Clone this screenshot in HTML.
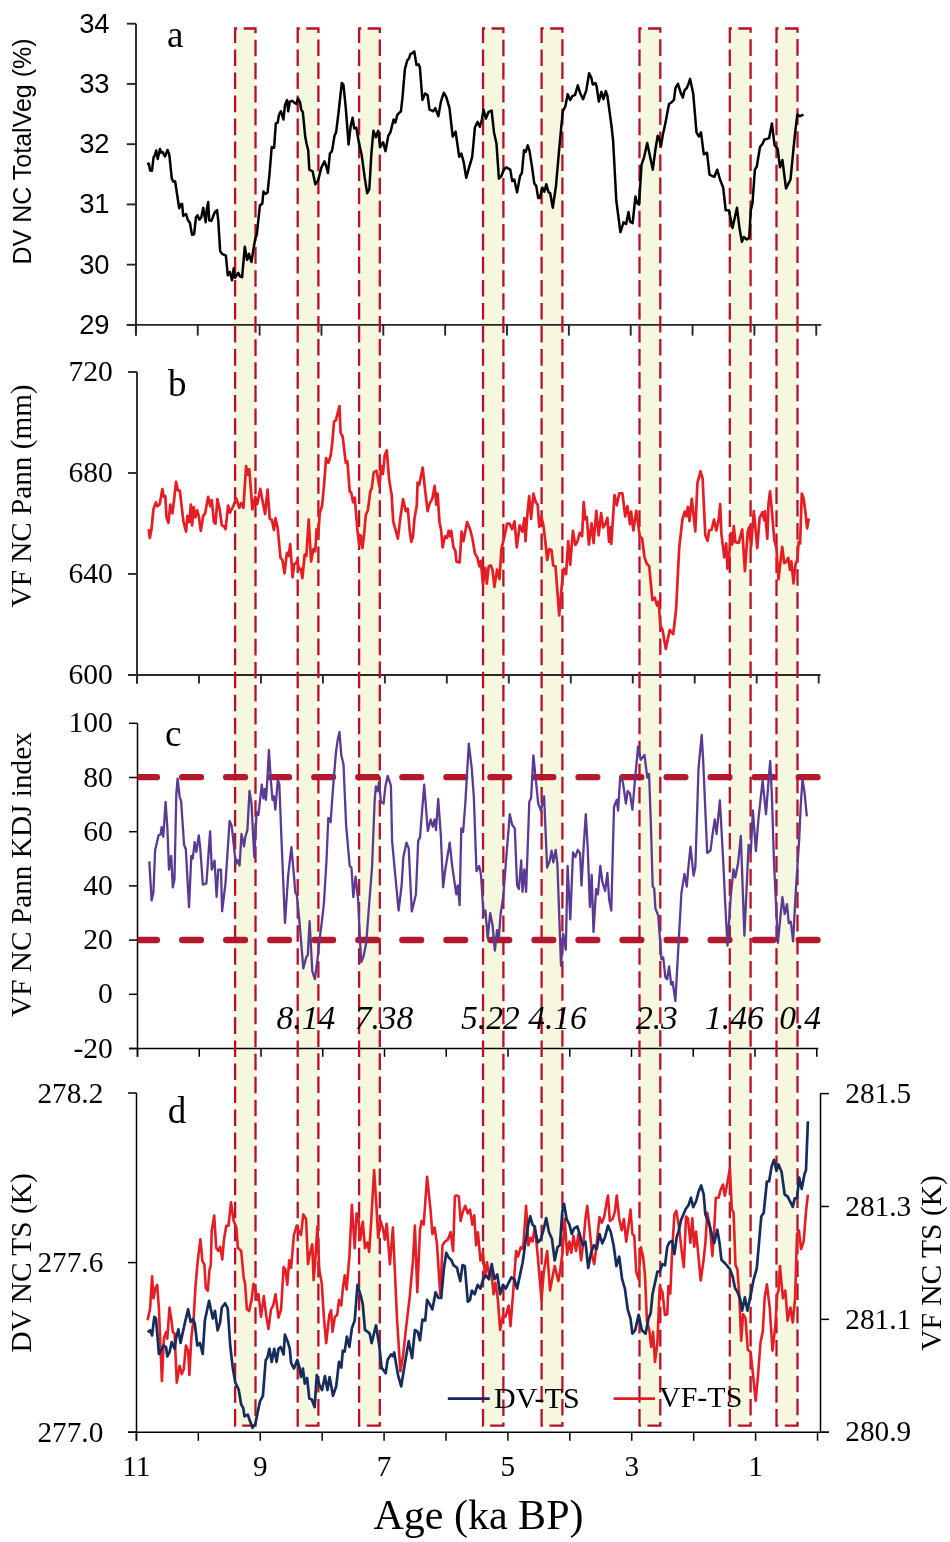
<!DOCTYPE html><html><head><meta charset="utf-8"><style>html,body{margin:0;padding:0;background:#fff;}svg{display:block;will-change:transform;}.s{font-family:"Liberation Sans",sans-serif;} .r{font-family:"Liberation Serif",serif;}</style></head><body>
<svg width="950" height="1542" viewBox="0 0 950 1542">
<rect width="950" height="1542" fill="#fff"/>
<rect x="235.1" y="28.5" width="20.40" height="1397.20" fill="#F5F8DE"/>
<rect x="297.7" y="28.5" width="20.70" height="1397.20" fill="#F5F8DE"/>
<rect x="359.1" y="28.5" width="20.70" height="1397.20" fill="#F5F8DE"/>
<rect x="483.05" y="28.5" width="20.35" height="1397.20" fill="#F5F8DE"/>
<rect x="541.6" y="28.5" width="20.80" height="1397.20" fill="#F5F8DE"/>
<rect x="639.5" y="28.5" width="20.80" height="1397.20" fill="#F5F8DE"/>
<rect x="729.8" y="28.5" width="20.80" height="1397.20" fill="#F5F8DE"/>
<rect x="776.5" y="28.5" width="21.00" height="1397.20" fill="#F5F8DE"/>
<line x1="136.0" y1="23.7" x2="136.0" y2="335.6" stroke="#262626" stroke-width="1.9"/><line x1="126.8" y1="23.70" x2="136.0" y2="23.70" stroke="#262626" stroke-width="1.9"/><line x1="126.8" y1="83.94" x2="136.0" y2="83.94" stroke="#262626" stroke-width="1.9"/><line x1="126.8" y1="144.18" x2="136.0" y2="144.18" stroke="#262626" stroke-width="1.9"/><line x1="126.8" y1="204.42" x2="136.0" y2="204.42" stroke="#262626" stroke-width="1.9"/><line x1="126.8" y1="264.66" x2="136.0" y2="264.66" stroke="#262626" stroke-width="1.9"/><line x1="126.8" y1="324.90" x2="136.0" y2="324.90" stroke="#262626" stroke-width="1.9"/>
<line x1="126.8" y1="324.9" x2="821.3" y2="324.9" stroke="#262626" stroke-width="1.9"/><line x1="135.90" y1="324.9" x2="135.90" y2="335.59999999999997" stroke="#262626" stroke-width="1.9"/><line x1="197.75" y1="324.9" x2="197.75" y2="335.59999999999997" stroke="#262626" stroke-width="1.9"/><line x1="259.60" y1="324.9" x2="259.60" y2="335.59999999999997" stroke="#262626" stroke-width="1.9"/><line x1="321.45" y1="324.9" x2="321.45" y2="335.59999999999997" stroke="#262626" stroke-width="1.9"/><line x1="383.30" y1="324.9" x2="383.30" y2="335.59999999999997" stroke="#262626" stroke-width="1.9"/><line x1="445.15" y1="324.9" x2="445.15" y2="335.59999999999997" stroke="#262626" stroke-width="1.9"/><line x1="507.00" y1="324.9" x2="507.00" y2="335.59999999999997" stroke="#262626" stroke-width="1.9"/><line x1="568.85" y1="324.9" x2="568.85" y2="335.59999999999997" stroke="#262626" stroke-width="1.9"/><line x1="630.70" y1="324.9" x2="630.70" y2="335.59999999999997" stroke="#262626" stroke-width="1.9"/><line x1="692.55" y1="324.9" x2="692.55" y2="335.59999999999997" stroke="#262626" stroke-width="1.9"/><line x1="754.40" y1="324.9" x2="754.40" y2="335.59999999999997" stroke="#262626" stroke-width="1.9"/><line x1="816.25" y1="324.9" x2="816.25" y2="335.59999999999997" stroke="#262626" stroke-width="1.9"/>
<line x1="137.0" y1="372.0" x2="137.0" y2="683.5" stroke="#2a2a2a" stroke-width="1.9"/><line x1="128.1" y1="372.00" x2="137.0" y2="372.00" stroke="#2a2a2a" stroke-width="1.9"/><line x1="128.1" y1="472.98" x2="137.0" y2="472.98" stroke="#2a2a2a" stroke-width="1.9"/><line x1="128.1" y1="573.96" x2="137.0" y2="573.96" stroke="#2a2a2a" stroke-width="1.9"/><line x1="128.1" y1="674.94" x2="137.0" y2="674.94" stroke="#2a2a2a" stroke-width="1.9"/>
<line x1="128.1" y1="674.95" x2="820.6" y2="674.95" stroke="#2a2a2a" stroke-width="1.9"/><line x1="137.00" y1="674.95" x2="137.00" y2="683.5" stroke="#2a2a2a" stroke-width="1.9"/><line x1="198.97" y1="674.95" x2="198.97" y2="683.5" stroke="#2a2a2a" stroke-width="1.9"/><line x1="260.94" y1="674.95" x2="260.94" y2="683.5" stroke="#2a2a2a" stroke-width="1.9"/><line x1="322.91" y1="674.95" x2="322.91" y2="683.5" stroke="#2a2a2a" stroke-width="1.9"/><line x1="384.88" y1="674.95" x2="384.88" y2="683.5" stroke="#2a2a2a" stroke-width="1.9"/><line x1="446.85" y1="674.95" x2="446.85" y2="683.5" stroke="#2a2a2a" stroke-width="1.9"/><line x1="508.82" y1="674.95" x2="508.82" y2="683.5" stroke="#2a2a2a" stroke-width="1.9"/><line x1="570.79" y1="674.95" x2="570.79" y2="683.5" stroke="#2a2a2a" stroke-width="1.9"/><line x1="632.76" y1="674.95" x2="632.76" y2="683.5" stroke="#2a2a2a" stroke-width="1.9"/><line x1="694.73" y1="674.95" x2="694.73" y2="683.5" stroke="#2a2a2a" stroke-width="1.9"/><line x1="756.70" y1="674.95" x2="756.70" y2="683.5" stroke="#2a2a2a" stroke-width="1.9"/><line x1="818.67" y1="674.95" x2="818.67" y2="683.5" stroke="#2a2a2a" stroke-width="1.9"/>
<line x1="137.5" y1="723.3" x2="137.5" y2="1056.8" stroke="#000" stroke-width="1.5"/><line x1="129.0" y1="723.30" x2="137.5" y2="723.30" stroke="#000" stroke-width="1.5"/><line x1="129.0" y1="777.50" x2="137.5" y2="777.50" stroke="#000" stroke-width="1.5"/><line x1="129.0" y1="831.70" x2="137.5" y2="831.70" stroke="#000" stroke-width="1.5"/><line x1="129.0" y1="885.90" x2="137.5" y2="885.90" stroke="#000" stroke-width="1.5"/><line x1="129.0" y1="940.10" x2="137.5" y2="940.10" stroke="#000" stroke-width="1.5"/><line x1="129.0" y1="994.30" x2="137.5" y2="994.30" stroke="#000" stroke-width="1.5"/><line x1="129.0" y1="1048.50" x2="137.5" y2="1048.50" stroke="#000" stroke-width="1.5"/>
<line x1="129" y1="1048.5" x2="818.3" y2="1048.5" stroke="#000" stroke-width="1.5"/><line x1="137.50" y1="1048.5" x2="137.50" y2="1056.8" stroke="#000" stroke-width="1.5"/><line x1="199.25" y1="1048.5" x2="199.25" y2="1056.8" stroke="#000" stroke-width="1.5"/><line x1="261.00" y1="1048.5" x2="261.00" y2="1056.8" stroke="#000" stroke-width="1.5"/><line x1="322.75" y1="1048.5" x2="322.75" y2="1056.8" stroke="#000" stroke-width="1.5"/><line x1="384.50" y1="1048.5" x2="384.50" y2="1056.8" stroke="#000" stroke-width="1.5"/><line x1="446.25" y1="1048.5" x2="446.25" y2="1056.8" stroke="#000" stroke-width="1.5"/><line x1="508.00" y1="1048.5" x2="508.00" y2="1056.8" stroke="#000" stroke-width="1.5"/><line x1="569.75" y1="1048.5" x2="569.75" y2="1056.8" stroke="#000" stroke-width="1.5"/><line x1="631.50" y1="1048.5" x2="631.50" y2="1056.8" stroke="#000" stroke-width="1.5"/><line x1="693.25" y1="1048.5" x2="693.25" y2="1056.8" stroke="#000" stroke-width="1.5"/><line x1="755.00" y1="1048.5" x2="755.00" y2="1056.8" stroke="#000" stroke-width="1.5"/><line x1="816.75" y1="1048.5" x2="816.75" y2="1056.8" stroke="#000" stroke-width="1.5"/>
<line x1="136.5" y1="1093.0" x2="136.5" y2="1440.8" stroke="#000" stroke-width="1.5"/><line x1="128.05" y1="1093.00" x2="136.5" y2="1093.00" stroke="#000" stroke-width="1.5"/><line x1="128.05" y1="1262.60" x2="136.5" y2="1262.60" stroke="#000" stroke-width="1.5"/><line x1="128.05" y1="1432.20" x2="136.5" y2="1432.20" stroke="#000" stroke-width="1.5"/>
<line x1="820.5" y1="1093.6" x2="820.5" y2="1432.25" stroke="#000" stroke-width="1.5"/><line x1="820.5" y1="1093.60" x2="829.0" y2="1093.60" stroke="#000" stroke-width="1.5"/><line x1="820.5" y1="1206.48" x2="829.0" y2="1206.48" stroke="#000" stroke-width="1.5"/><line x1="820.5" y1="1319.36" x2="829.0" y2="1319.36" stroke="#000" stroke-width="1.5"/><line x1="820.5" y1="1432.24" x2="829.0" y2="1432.24" stroke="#000" stroke-width="1.5"/>
<line x1="128.05" y1="1432.25" x2="829" y2="1432.25" stroke="#000" stroke-width="1.5"/><line x1="136.40" y1="1432.25" x2="136.40" y2="1440.8" stroke="#000" stroke-width="1.5"/><line x1="198.32" y1="1432.25" x2="198.32" y2="1440.8" stroke="#000" stroke-width="1.5"/><line x1="260.24" y1="1432.25" x2="260.24" y2="1440.8" stroke="#000" stroke-width="1.5"/><line x1="322.16" y1="1432.25" x2="322.16" y2="1440.8" stroke="#000" stroke-width="1.5"/><line x1="384.08" y1="1432.25" x2="384.08" y2="1440.8" stroke="#000" stroke-width="1.5"/><line x1="446.00" y1="1432.25" x2="446.00" y2="1440.8" stroke="#000" stroke-width="1.5"/><line x1="507.92" y1="1432.25" x2="507.92" y2="1440.8" stroke="#000" stroke-width="1.5"/><line x1="569.84" y1="1432.25" x2="569.84" y2="1440.8" stroke="#000" stroke-width="1.5"/><line x1="631.76" y1="1432.25" x2="631.76" y2="1440.8" stroke="#000" stroke-width="1.5"/><line x1="693.68" y1="1432.25" x2="693.68" y2="1440.8" stroke="#000" stroke-width="1.5"/><line x1="755.60" y1="1432.25" x2="755.60" y2="1440.8" stroke="#000" stroke-width="1.5"/><line x1="817.52" y1="1432.25" x2="817.52" y2="1440.8" stroke="#000" stroke-width="1.5"/>
<defs><clipPath id="cc"><rect x="137.4" y="700" width="700" height="300"/></clipPath></defs>
<line x1="138.11" y1="777.2" x2="817.5" y2="777.2" stroke="#B3182C" stroke-width="6.3" stroke-linecap="round" stroke-dasharray="18.8 25.24" clip-path="url(#cc)"/>
<line x1="138.11" y1="940.0" x2="817.5" y2="940.0" stroke="#B3182C" stroke-width="6.3" stroke-linecap="round" stroke-dasharray="18.8 25.24" clip-path="url(#cc)"/>
<path d="M235.1,1425.7 L235.1,28.5 L255.5,28.5 L255.5,1425.7 Z" fill="none" stroke="#B8102A" stroke-width="2.3" stroke-dasharray="16.6 6.445" stroke-dashoffset="0" stroke-linecap="butt" stroke-linejoin="miter"/>
<path d="M297.7,1425.7 L297.7,28.5 L318.4,28.5 L318.4,1425.7 Z" fill="none" stroke="#B8102A" stroke-width="2.3" stroke-dasharray="16.6 6.445" stroke-dashoffset="0" stroke-linecap="butt" stroke-linejoin="miter"/>
<path d="M359.1,1425.7 L359.1,28.5 L379.8,28.5 L379.8,1425.7 Z" fill="none" stroke="#B8102A" stroke-width="2.3" stroke-dasharray="16.6 6.445" stroke-dashoffset="0" stroke-linecap="butt" stroke-linejoin="miter"/>
<path d="M483.05,1425.7 L483.05,28.5 L503.4,28.5 L503.4,1425.7 Z" fill="none" stroke="#B8102A" stroke-width="2.3" stroke-dasharray="16.6 6.445" stroke-dashoffset="0" stroke-linecap="butt" stroke-linejoin="miter"/>
<path d="M541.6,1425.7 L541.6,28.5 L562.4,28.5 L562.4,1425.7 Z" fill="none" stroke="#B8102A" stroke-width="2.3" stroke-dasharray="16.6 6.445" stroke-dashoffset="0" stroke-linecap="butt" stroke-linejoin="miter"/>
<path d="M639.5,1425.7 L639.5,28.5 L660.3,28.5 L660.3,1425.7 Z" fill="none" stroke="#B8102A" stroke-width="2.3" stroke-dasharray="16.6 6.445" stroke-dashoffset="0" stroke-linecap="butt" stroke-linejoin="miter"/>
<path d="M729.8,1425.7 L729.8,28.5 L750.6,28.5 L750.6,1425.7 Z" fill="none" stroke="#B8102A" stroke-width="2.3" stroke-dasharray="16.6 6.445" stroke-dashoffset="0" stroke-linecap="butt" stroke-linejoin="miter"/>
<path d="M776.5,1425.7 L776.5,28.5 L797.5,28.5 L797.5,1425.7 Z" fill="none" stroke="#B8102A" stroke-width="2.3" stroke-dasharray="16.6 6.445" stroke-dashoffset="0" stroke-linecap="butt" stroke-linejoin="miter"/>
<polyline points="147.3,164.7 148.8,163.5 150.1,170.4 152.0,170.7 153.6,157.2 154.9,155.3 156.2,150.5 157.7,159.1 160.0,148.9 161.2,152.7 162.7,152.1 165.0,156.5 167.5,150.0 169.3,154.6 171.8,178.6 173.5,181.8 175.1,181.2 179.2,208.3 180.7,204.5 182.1,203.9 183.2,215.9 186.1,214.0 187.7,219.7 189.9,222.8 192.0,234.8 194.1,234.2 196.0,217.2 197.5,215.3 199.4,219.7 201.3,217.2 203.2,207.7 205.7,222.2 206.9,208.3 208.2,202.0 209.2,220.3 211.4,220.9 214.5,212.7 217.0,210.2 218.3,220.9 220.2,251.3 222.1,253.8 225.9,255.7 227.8,275.3 229.9,272.1 232.0,280.3 233.7,268.3 235.0,277.8 238.3,272.7 239.8,276.3 242.1,277.2 244.8,246.8 247.1,260.1 248.9,253.8 251.4,262.0 255.2,238.6 256.8,234.8 259.9,205.4 262.3,203.8 263.4,191.6 265.5,194.0 267.6,192.4 269.6,173.0 271.7,147.0 274.1,147.8 275.8,123.5 277.7,122.7 279.0,114.6 280.9,111.3 283.4,119.5 285.0,104.9 287.1,100.0 288.2,111.3 289.9,101.6 292.0,100.8 293.9,102.4 296.3,104.0 298.0,98.4 300.1,102.4 301.2,109.7 302.8,112.2 305.3,137.3 306.6,143.8 308.2,150.3 309.3,169.7 312.6,171.3 315.3,184.3 318.2,180.3 321.2,168.1 324.4,161.3 326.3,166.5 328.0,173.0 329.9,153.5 332.0,151.1 334.5,135.7 336.1,132.4 338.5,113.0 341.8,83.0 343.4,84.6 345.8,108.1 348.6,144.6 350.7,125.9 352.6,117.8 354.2,128.4 356.3,127.6 358.8,142.2 361.7,155.1 364.5,176.2 367.2,193.2 369.3,189.2 371.4,153.5 373.4,130.8 375.8,137.3 378.2,130.8 380.2,147.0 383.1,142.2 385.5,151.1 388.3,135.7 390.4,132.4 393.6,119.5 395.3,122.7 397.4,114.6 400.9,111.3 402.4,98.4 404.9,69.2 407.3,60.3 408.9,58.6 410.5,53.8 412.6,53.0 414.3,51.4 416.5,65.1 418.6,64.3 419.9,67.6 422.4,100.0 425.1,93.5 427.6,95.1 429.5,109.7 431.6,110.5 433.2,111.3 435.3,108.1 438.4,116.2 440.9,101.6 443.8,92.7 446.2,96.8 449.5,108.1 452.7,136.5 455.6,131.6 459.2,156.8 461.3,153.5 463.6,161.6 466.2,177.8 468.9,168.1 472.2,156.8 474.9,127.6 477.5,121.9 479.8,126.8 481.9,119.5 483.5,109.7 485.9,118.6 488.4,112.2 491.6,110.5 494.0,132.4 496.5,143.8 498.9,178.6 501.3,176.2 503.8,169.7 506.2,167.3 510.3,169.7 512.2,181.1 514.3,179.5 517.1,192.4 520.0,176.2 521.9,173.0 524.0,150.3 525.7,151.9 527.8,145.4 529.4,150.3 532.2,168.1 534.3,183.5 536.2,185.9 538.2,198.1 539.8,198.1 542.4,187.6 544.3,191.6 546.3,184.3 548.6,192.4 550.2,193.2 552.8,207.8 556.0,185.9 558.8,153.5 561.2,127.6 562.8,111.3 565.3,106.5 567.7,94.3 570.1,100.0 572.6,95.9 575.0,95.1 577.8,85.4 580.3,93.5 583.1,99.2 586.3,90.3 589.1,73.2 591.2,77.3 592.8,84.6 595.3,83.0 596.6,86.2 598.8,101.6 601.4,91.9 603.4,99.2 605.8,91.1 607.4,95.9 611.5,125.9 613.1,140.5 616.3,200.5 620.4,232.2 623.6,222.4 626.1,224.0 628.5,211.9 630.1,221.6 632.6,223.2 635.5,196.5 637.1,203.0 639.0,204.6 641.5,164.9 644.2,156.8 647.2,143.0 650.1,156.8 652.8,169.7 655.3,150.3 657.7,135.7 659.3,138.9 660.9,146.2 663.0,134.0 665.0,125.1 669.0,104.0 671.5,102.4 673.9,100.0 675.5,87.8 678.0,83.8 680.4,91.9 682.8,97.6 684.5,90.3 686.9,87.8 688.2,84.6 690.1,78.9 691.8,87.0 693.2,93.5 696.5,132.4 698.9,136.5 701.0,132.4 703.8,154.3 707.0,152.7 709.5,174.6 714.3,177.0 717.2,169.7 720.0,179.5 723.2,187.6 725.7,210.3 728.9,210.3 732.5,228.1 737.0,207.8 739.5,228.1 741.9,241.9 743.8,237.0 746.8,239.4 749.2,237.8 750.8,210.3 752.4,203.8 754.9,169.7 756.8,166.5 760.0,147.0 762.6,143.8 764.3,139.7 767.0,138.9 769.1,138.1 771.9,123.5 774.6,145.4 777.6,148.6 780.0,167.3 782.4,160.0 786.0,188.4 790.5,179.5 794.6,137.3 797.3,114.6 799.9,116.2 803.5,114.6" fill="none" stroke="#000" stroke-width="2.5" stroke-linejoin="round"/>
<polyline points="148.7,529.2 149.8,537.9 151.4,530.0 153.4,509.5 155.8,502.4 157.4,506.3 159.7,504.0 162.4,489.0 163.7,496.8 165.3,496.1 166.5,517.4 168.4,522.9 170.3,504.7 172.4,513.4 173.9,501.6 176.0,481.8 177.9,490.5 179.8,490.5 183.4,521.3 186.1,531.6 187.4,515.8 189.3,522.1 190.8,504.7 192.1,525.3 193.7,507.1 195.3,517.4 197.2,510.3 198.7,515.8 200.8,530.8 203.2,515.8 205.1,513.4 208.2,496.8 210.3,506.3 211.8,500.0 213.9,522.1 215.5,523.7 217.4,499.2 219.7,509.5 221.8,525.3 223.7,526.1 225.6,529.2 228.1,505.5 230.0,512.6 233.2,506.3 236.3,498.4 239.2,507.9 241.1,503.2 243.4,507.9 246.1,466.1 247.7,474.7 249.3,469.2 252.4,509.5 255.3,496.8 257.2,503.9 260.3,488.9 262.4,500.0 265.1,514.2 267.6,489.7 269.8,519.0 271.8,519.7 273.9,530.0 275.5,518.2 277.7,528.4 280.5,557.6 282.4,560.0 284.5,573.4 286.9,552.9 288.5,556.1 290.2,544.2 292.6,577.4 294.2,564.0 296.1,563.2 297.3,560.0 298.9,569.5 300.8,568.7 302.4,578.2 304.7,554.5 306.3,556.1 308.7,519.7 311.1,561.6 313.4,549.0 315.3,551.3 316.6,529.2 318.2,537.1 319.7,513.4 322.1,505.5 324.2,483.4 326.1,458.2 328.4,462.9 330.8,455.0 332.4,441.6 334.0,421.8 335.8,420.3 337.9,412.4 339.5,406.1 340.6,432.9 342.6,436.1 345.8,462.9 347.4,461.3 349.7,491.3 351.3,492.9 353.2,502.4 354.8,497.6 357.3,529.2 359.2,545.0 360.8,535.5 362.4,548.2 364.0,535.5 365.8,515.0 367.9,510.3 370.3,491.3 371.8,488.2 373.7,472.4 376.6,470.8 379.4,486.6 381.3,466.1 382.9,474.0 384.8,455.0 386.8,450.3 389.2,480.3 391.6,494.5 393.2,521.3 396.3,532.4 397.9,538.7 400.3,518.2 403.1,499.2 405.8,511.1 407.8,508.7 409.7,530.8 411.3,541.8 412.9,537.1 414.5,518.2 416.8,505.5 417.6,482.6 419.2,485.0 422.7,467.6 424.7,486.6 427.6,511.1 429.5,504.0 432.4,498.4 434.7,485.8 436.3,504.7 437.6,493.7 439.5,522.1 441.1,530.0 442.6,547.4 445.0,536.3 447.1,537.9 448.6,530.8 450.2,536.3 451.3,530.8 453.4,547.4 455.3,550.5 456.5,561.6 459.7,562.4 461.6,531.6 463.5,541.1 467.1,522.1 470.3,530.0 472.6,539.5 475.0,553.7 477.4,557.6 479.3,566.3 480.8,560.8 482.9,583.7 485.3,567.9 486.8,583.7 488.7,566.3 490.8,565.5 492.4,569.5 494.4,586.8 497.1,569.5 499.5,579.0 501.4,549.0 504.2,537.9 507.1,523.7 509.7,523.7 512.1,529.2 514.5,521.3 516.8,547.4 519.7,525.3 522.4,531.6 524.4,518.2 525.5,541.1 527.1,517.4 529.2,496.1 531.1,519.0 533.4,493.7 535.8,502.4 537.7,504.7 539.3,526.8 541.3,516.6 543.4,525.3 545.3,541.1 547.2,560.0 549.2,549.0 551.6,550.5 553.2,565.5 555.5,566.3 559.2,615.3 561.8,585.3 563.9,568.7 566.1,574.2 568.2,541.1 570.2,564.7 572.9,530.8 575.3,545.0 577.4,541.6 579.7,532.9 582.1,536.1 583.7,502.1 585.3,519.5 586.8,517.1 588.9,544.7 591.6,523.4 593.6,543.2 596.3,510.8 598.7,535.3 601.1,513.2 603.1,527.4 605.3,524.2 607.4,517.9 609.0,541.6 610.1,527.4 611.3,544.0 614.5,495.0 616.8,505.3 619.2,493.4 622.4,493.4 625.2,516.3 627.4,506.1 630.0,524.2 631.1,511.6 633.4,530.5 636.3,510.8 638.2,524.2 639.7,536.1 642.1,538.4 644.5,557.4 646.8,563.7 649.2,566.1 652.4,600.0 654.7,597.6 657.1,605.5 658.7,601.6 660.3,625.3 662.6,630.0 665.8,649.0 669.7,630.0 673.2,634.0 676.1,609.5 679.2,547.9 682.4,519.5 684.7,511.6 686.3,516.3 687.9,506.8 689.5,521.1 691.8,498.9 693.7,516.3 695.3,531.3 697.4,483.2 700.5,471.3 702.6,478.4 705.3,535.3 707.6,540.8 709.2,530.5 711.6,529.7 714.0,519.5 716.3,530.5 718.5,520.8 720.2,504.0 721.4,534.1 724.3,557.3 726.2,543.4 727.5,568.8 729.1,556.1 731.0,533.0 732.4,544.5 733.8,526.0 735.3,542.2 738.7,542.8 742.2,529.5 744.9,571.2 747.7,531.8 749.2,527.2 751.1,546.8 753.8,511.0 757.3,548.0 759.6,517.9 762.5,512.1 764.2,520.2 765.0,511.0 767.3,538.7 768.5,504.0 770.0,491.3 771.7,508.6 774.3,539.9 776.4,548.0 778.5,579.3 782.2,546.8 784.2,563.1 786.2,561.9 788.2,557.8 790.0,570.0 791.4,561.3 793.5,583.3 795.5,564.2 797.4,559.6 798.6,542.2 800.1,543.4 801.8,493.6 803.6,498.2 805.3,511.0 807.1,528.3 808.8,518.5" fill="none" stroke="#E51E25" stroke-width="2.7" stroke-linejoin="round"/>
<polyline points="149.3,861.4 151.6,900.4 153.4,892.8 155.1,850.4 158.5,835.4 160.5,834.7 161.6,827.2 163.3,836.7 165.6,801.8 167.4,828.5 169.0,869.6 171.2,855.9 172.8,887.4 174.5,879.2 176.3,794.3 177.6,778.6 179.7,797.0 181.1,801.2 184.1,845.0 185.8,849.0 189.0,907.2 191.3,855.9 192.7,858.6 194.7,842.2 196.4,851.8 198.8,835.4 200.2,847.7 202.9,884.6 206.4,883.3 210.1,831.3 211.8,869.6 214.6,860.7 216.6,896.9 218.3,869.6 221.0,869.6 222.1,911.3 225.5,883.3 229.6,821.0 231.7,825.8 235.8,864.1 237.4,860.0 239.6,865.5 241.5,834.0 244.0,846.3 245.4,836.7 247.4,829.9 249.5,790.9 251.5,803.9 254.3,857.3 256.6,812.1 258.4,814.8 261.8,784.7 263.4,798.4 264.8,788.8 265.9,799.9 267.1,783.9 268.9,750.0 270.7,778.5 272.5,799.9 273.9,796.3 275.3,809.7 277.8,780.3 279.3,783.9 281.9,849.8 285.0,923.0 288.2,874.8 291.4,847.2 293.9,874.8 295.3,892.6 296.7,894.4 299.2,918.5 303.3,968.4 306.4,956.9 307.8,955.1 309.6,921.2 312.3,971.1 314.9,979.1 317.6,958.6 319.4,940.8 321.7,923.0 323.9,903.3 326.5,860.5 328.3,817.8 330.6,822.2 332.8,791.0 336.0,751.8 337.8,739.3 339.5,732.1 341.3,755.3 343.5,764.2 346.1,824.9 349.7,865.9 351.5,867.7 353.3,897.1 355.6,876.6 358.1,899.8 359.9,939.0 361.3,962.2 363.4,956.9 366.3,942.6 368.4,914.0 372.0,867.7 374.7,799.9 375.9,786.5 377.7,791.0 379.1,782.1 380.9,801.7 383.6,803.5 385.4,786.5 387.7,775.8 390.9,785.6 392.1,840.9 395.4,876.6 398.6,910.5 401.6,885.5 403.4,857.0 406.4,842.7 408.7,848.1 411.8,911.4 415.9,894.4 418.2,840.9 420.0,837.4 424.2,784.7 427.8,831.1 430.7,819.5 432.8,826.7 434.6,819.5 436.0,830.2 438.2,799.0 440.8,834.7 443.1,887.3 445.3,869.5 449.7,842.7 452.4,867.7 456.3,894.4 457.8,885.5 459.6,905.1 461.3,828.4 463.1,832.0 465.3,803.5 468.8,743.7 471.7,767.8 473.8,796.3 476.5,871.2 479.2,865.9 481.0,874.8 483.6,915.8 485.4,910.5 487.7,938.1 490.2,913.2 492.5,924.7 494.9,950.6 497.0,930.1 498.8,938.1 500.6,914.0 503.3,896.2 505.9,862.3 509.8,814.2 512.2,824.9 514.8,828.4 517.1,885.5 518.9,889.1 521.2,860.5 522.5,891.8 524.3,869.5 526.1,891.8 529.3,801.7 531.1,798.1 533.4,755.3 535.5,776.7 538.2,803.5 540.9,810.6 544.1,796.3 547.1,867.7 549.8,860.5 551.6,850.7 553.3,862.3 555.7,849.8 557.4,864.1 561.0,965.8 563.2,933.7 565.8,949.7 567.6,865.9 570.3,919.4 573.0,852.5 575.3,857.0 577.8,849.8 580.1,853.4 581.5,885.5 583.7,846.3 585.8,814.2 587.8,849.8 589.9,906.9 591.7,874.8 593.5,931.9 596.1,889.1 597.9,894.4 600.3,865.9 602.4,882.0 605.1,890.9 607.4,873.0 609.2,899.8 611.3,910.5 614.0,807.0 616.7,799.9 618.1,810.6 620.2,776.7 622.9,782.1 625.9,803.5 627.7,791.0 630.0,793.7 632.4,809.7 635.9,769.6 638.1,746.4 640.7,759.8 644.5,755.0 647.3,777.7 649.1,774.0 650.9,824.9 652.7,886.6 654.2,888.4 655.4,908.4 658.2,915.7 660.0,939.3 661.4,959.2 663.2,957.4 665.4,977.4 667.2,979.2 669.1,966.5 671.2,984.7 672.7,982.0 675.4,1001.0 678.1,952.0 681.4,893.0 684.5,873.9 686.8,886.6 688.1,870.3 690.5,846.7 693.6,875.7 695.4,866.6 698.5,768.6 701.7,735.0 703.2,761.3 707.2,853.0 710.5,850.3 712.6,834.0 714.8,819.4 716.6,834.0 719.9,800.4 723.5,866.6 725.0,899.3 727.5,945.6 730.8,895.7 733.5,869.4 735.3,877.5 738.1,863.0 740.8,835.8 744.4,935.6 748.6,844.9 750.8,852.1 752.9,810.3 755.9,851.2 758.4,819.5 762.6,780.6 766.0,814.1 768.4,782.9 770.2,760.8 771.8,793.6 774.0,862.2 776.0,904.8 777.9,942.9 780.1,920.1 782.4,897.2 784.7,914.0 787.0,904.1 788.8,923.1 790.8,921.6 793.1,941.4 795.8,891.1 799.2,839.3 800.7,805.8 802.5,779.1 804.5,792.1 806.8,816.4" fill="none" stroke="#5A3A92" stroke-width="2.3" stroke-linejoin="round"/>
<polyline points="147.6,1320.2 150.1,1308.4 152.1,1276.3 153.5,1298.3 155.5,1288.1 157.2,1284.8 158.9,1308.4 161.9,1380.9 163.9,1338.7 166.1,1332.0 167.3,1338.7 169.5,1307.5 171.2,1318.5 172.9,1332.0 174.6,1333.7 176.8,1382.6 179.6,1365.7 181.8,1374.1 183.8,1369.1 185.9,1345.5 188.1,1350.5 189.4,1375.0 191.4,1337.0 193.6,1318.5 195.6,1284.8 197.7,1261.2 200.4,1239.2 202.4,1261.2 204.4,1264.5 205.8,1288.1 207.8,1290.7 209.5,1269.6 210.8,1265.4 211.7,1230.8 214.2,1215.6 216.2,1247.7 218.4,1251.0 220.1,1246.8 222.3,1259.5 224.0,1239.2 226.3,1225.8 228.5,1225.8 231.0,1202.2 233.6,1220.7 236.4,1227.4 237.8,1247.7 241.2,1251.0 243.7,1278.0 245.0,1282.9 246.9,1309.3 249.1,1311.1 251.6,1299.9 253.5,1283.9 255.3,1288.6 257.2,1299.9 258.5,1294.2 261.0,1316.8 263.8,1296.1 266.1,1314.9 268.5,1329.0 271.0,1309.3 273.2,1305.5 275.5,1294.2 278.5,1317.7 281.1,1309.3 283.6,1267.0 285.4,1269.8 287.3,1284.8 289.2,1260.4 291.1,1267.9 293.9,1235.0 296.7,1225.6 298.6,1230.3 301.0,1235.0 303.3,1214.3 306.1,1219.0 308.0,1264.1 310.4,1251.0 312.3,1244.4 313.6,1280.1 315.0,1264.1 317.4,1226.5 319.3,1269.8 321.7,1282.9 324.0,1318.7 326.2,1343.1 329.3,1314.9 331.1,1310.2 332.5,1331.8 334.9,1316.8 337.2,1314.9 339.0,1299.9 341.3,1305.5 342.8,1288.6 344.7,1275.4 346.6,1289.5 349.4,1256.6 351.9,1204.9 354.7,1248.1 356.6,1213.3 358.5,1219.0 360.3,1239.7 362.8,1221.8 365.0,1248.1 367.3,1242.5 369.2,1251.9 371.1,1222.8 374.1,1170.1 376.3,1203.9 378.2,1237.8 380.5,1220.9 382.9,1228.4 384.8,1239.7 386.7,1223.7 389.9,1264.1 392.9,1227.5 397.0,1318.7 400.4,1371.3 403.0,1356.3 405.5,1332.8 409.8,1296.1 413.0,1260.4 414.9,1225.6 417.3,1292.3 420.0,1230.3 421.5,1220.9 423.7,1224.6 427.1,1176.7 430.5,1209.6 432.4,1234.0 434.6,1227.5 436.9,1243.4 440.3,1295.2 442.5,1245.3 445.0,1241.6 447.8,1239.7 450.6,1232.2 453.1,1251.0 454.9,1196.4 456.5,1195.5 458.8,1196.4 460.6,1220.9 462.9,1211.5 465.3,1205.8 467.8,1213.3 470.0,1209.6 472.3,1224.6 474.2,1215.2 476.1,1245.3 477.9,1232.2 480.4,1260.4 482.8,1252.8 485.1,1275.4 487.0,1262.2 489.2,1275.4 491.1,1269.8 493.6,1294.2 495.4,1282.9 497.9,1299.9 500.1,1330.0 503.0,1314.9 505.4,1316.8 508.6,1305.5 510.5,1326.2 513.3,1290.5 516.1,1251.0 518.0,1256.6 520.8,1247.2 523.1,1249.1 526.1,1205.8 528.4,1245.3 530.6,1237.8 532.5,1241.6 534.9,1226.5 537.8,1256.6 541.5,1299.9 543.8,1271.7 547.2,1251.0 550.0,1290.5 552.8,1275.4 554.7,1266.0 558.4,1281.1 560.0,1271.7 562.3,1254.7 564.7,1219.0 567.1,1254.7 569.4,1241.6 571.3,1252.8 573.5,1235.9 576.0,1251.0 578.4,1234.0 581.1,1260.4 583.5,1241.6 585.4,1219.0 587.3,1205.8 590.1,1234.0 592.3,1256.6 594.2,1264.1 596.7,1243.4 599.5,1217.1 601.8,1222.8 604.2,1217.1 606.6,1202.1 608.0,1195.5 609.8,1220.9 612.7,1219.0 614.9,1211.5 616.8,1195.5 619.2,1219.0 621.7,1230.3 623.9,1219.0 626.2,1241.6 628.6,1224.6 630.5,1209.6 632.4,1234.0 634.3,1235.9 636.2,1271.7 638.6,1279.2 640.9,1247.2 643.1,1256.6 645.0,1275.4 646.9,1320.6 649.3,1330.0 651.2,1346.9 653.1,1331.8 655.0,1361.9 657.4,1343.1 659.7,1286.7 662.5,1292.3 664.9,1314.9 667.3,1314.3 668.4,1286.1 670.3,1293.6 672.1,1252.3 674.4,1214.6 676.3,1210.9 679.1,1227.8 681.6,1250.4 683.8,1267.3 686.1,1216.5 687.9,1218.4 690.4,1242.8 692.3,1218.4 694.2,1246.6 696.0,1231.6 697.9,1250.4 700.7,1280.5 703.6,1259.8 705.4,1242.8 707.3,1212.8 710.1,1227.8 712.4,1256.0 714.3,1227.8 715.8,1197.7 718.6,1197.7 720.5,1190.2 722.9,1184.5 724.8,1195.8 727.4,1182.7 729.9,1168.6 731.8,1209.0 733.6,1212.8 735.5,1265.4 737.4,1269.2 739.3,1295.5 741.2,1340.6 743.1,1314.3 745.5,1318.1 747.8,1350.0 750.6,1351.9 753.0,1374.5 755.7,1400.8 758.1,1374.5 760.5,1342.5 762.8,1331.2 764.7,1297.4 766.9,1284.2 769.7,1307.5 772.5,1350.7 775.3,1326.3 777.2,1294.3 778.5,1290.5 780.0,1266.1 782.9,1298.1 785.3,1290.5 787.6,1320.6 790.4,1307.5 792.8,1322.5 795.1,1298.1 797.0,1234.1 798.9,1230.4 801.1,1249.2 803.6,1241.7 806.0,1211.6 807.9,1194.6" fill="none" stroke="#E51E25" stroke-width="2.6" stroke-linejoin="round"/>
<polyline points="147.6,1332.0 150.1,1330.3 152.1,1335.4 154.3,1316.8 156.0,1318.5 158.9,1353.9 161.1,1350.5 163.6,1345.5 166.1,1347.2 167.3,1356.4 169.5,1352.2 171.7,1342.1 174.6,1348.8 176.3,1337.0 178.4,1329.4 180.5,1342.9 182.5,1333.7 185.5,1320.2 188.1,1309.2 190.6,1321.9 193.1,1319.3 194.8,1323.5 197.3,1345.5 199.9,1342.9 202.7,1353.9 204.9,1320.2 209.1,1300.8 212.8,1318.5 215.0,1310.9 217.6,1330.3 220.1,1322.7 221.8,1307.5 225.1,1303.3 227.7,1308.4 230.2,1345.5 232.7,1367.4 235.3,1382.6 238.6,1389.3 241.2,1404.5 243.2,1407.9 244.5,1416.3 247.8,1414.6 249.7,1420.2 252.5,1427.8 255.3,1424.0 257.2,1414.6 260.0,1401.4 262.9,1395.8 265.7,1360.0 267.2,1358.2 269.4,1348.8 271.7,1361.9 274.2,1348.8 276.6,1361.9 278.5,1348.8 280.7,1346.9 283.6,1354.4 284.9,1334.7 287.9,1342.2 289.8,1348.8 291.1,1362.9 293.9,1368.5 297.3,1360.0 299.5,1367.6 301.0,1377.0 302.9,1368.5 304.8,1383.6 307.1,1377.9 309.3,1398.6 311.8,1399.5 314.6,1407.1 316.8,1375.1 319.3,1384.5 322.1,1390.1 324.9,1376.0 327.4,1390.1 329.6,1377.0 333.0,1395.8 336.2,1386.4 339.0,1361.9 341.3,1367.6 342.8,1350.6 344.7,1351.6 346.9,1336.5 349.4,1346.9 351.9,1328.1 354.7,1320.6 357.5,1284.8 360.9,1296.1 362.8,1304.6 365.0,1330.0 367.9,1331.8 369.7,1333.7 371.6,1343.1 376.0,1325.3 379.2,1345.0 381.6,1367.6 385.7,1373.2 387.6,1360.0 391.0,1354.4 392.9,1356.3 394.2,1352.5 398.0,1375.1 401.2,1386.4 404.5,1365.7 408.7,1341.2 412.1,1358.2 414.9,1330.0 417.7,1331.8 420.0,1340.3 422.4,1319.6 425.2,1320.6 427.1,1299.9 429.4,1303.6 432.4,1309.3 435.6,1292.3 438.4,1298.0 441.2,1298.0 444.0,1267.9 446.3,1252.8 448.7,1257.5 451.6,1260.4 453.4,1265.1 457.2,1267.9 457.8,1271.7 460.3,1281.1 462.5,1265.1 464.8,1266.0 467.8,1301.7 470.0,1299.9 471.9,1290.5 474.7,1294.2 477.6,1284.8 480.4,1288.6 483.2,1279.2 486.0,1275.4 488.9,1279.2 491.7,1264.1 494.5,1279.2 497.3,1274.5 500.1,1294.2 503.0,1284.8 505.8,1288.6 508.6,1282.9 511.4,1277.3 514.2,1279.2 517.1,1288.6 519.9,1275.4 522.7,1262.2 525.5,1241.6 528.3,1224.6 530.2,1216.2 532.5,1224.6 534.4,1226.5 537.8,1242.5 540.6,1239.7 543.4,1230.3 546.2,1218.1 549.0,1232.2 551.9,1238.7 554.7,1260.4 557.5,1247.2 559.9,1245.3 562.3,1211.5 564.1,1203.9 566.6,1219.0 569.4,1224.6 571.7,1234.0 574.1,1228.4 577.3,1226.5 579.7,1234.0 582.6,1245.3 585.4,1241.6 588.2,1267.9 591.0,1252.8 593.9,1245.3 596.7,1249.1 599.5,1234.0 602.3,1243.4 604.8,1237.8 608.0,1225.6 610.8,1232.2 613.6,1245.3 616.4,1266.0 619.2,1256.6 622.1,1279.2 624.9,1288.6 627.7,1309.3 630.5,1318.7 632.4,1333.7 635.2,1330.0 638.6,1314.9 641.8,1330.0 645.6,1333.7 648.4,1318.7 650.7,1313.0 652.5,1294.2 655.0,1282.9 657.4,1271.7 659.7,1271.7 662.5,1264.1 665.0,1265.4 667.3,1246.6 669.7,1241.9 672.1,1241.0 674.4,1254.1 676.7,1237.2 678.5,1231.6 681.0,1220.3 683.4,1214.6 685.7,1209.0 688.5,1205.2 691.0,1197.7 693.2,1207.1 696.0,1201.5 698.5,1192.1 701.1,1185.5 703.6,1193.9 705.4,1214.6 709.2,1224.0 712.0,1235.3 714.3,1242.8 717.3,1229.7 719.5,1242.8 721.4,1259.8 725.2,1263.5 729.9,1269.2 732.7,1276.7 735.0,1288.0 737.4,1291.7 740.2,1299.3 742.1,1310.6 744.9,1297.4 747.4,1310.6 750.6,1295.5 753.4,1280.5 756.8,1268.2 759.0,1242.8 761.3,1216.5 763.7,1212.8 766.9,1181.5 769.1,1181.5 771.6,1166.4 774.0,1159.8 776.3,1170.2 778.5,1164.5 781.6,1172.1 784.7,1194.6 787.6,1196.5 790.4,1202.2 792.8,1206.9 794.7,1198.4 797.0,1198.4 799.2,1177.7 801.7,1189.0 804.5,1173.9 806.0,1170.2 807.9,1121.3" fill="none" stroke="#152C5C" stroke-width="2.7" stroke-linejoin="round"/>
<line x1="447.8" y1="1398.6" x2="489.8" y2="1398.6" stroke="#152C5C" stroke-width="2.7"/>
<line x1="613.6" y1="1398.6" x2="655" y2="1398.6" stroke="#E51E25" stroke-width="2.6"/>
<text class="r" x="494" y="1408" font-size="30">DV-TS</text>
<text class="r" x="659" y="1407.4" font-size="30">VF-TS</text>
<text class="s" x="109.6" y="32.7" font-size="27.4" text-anchor="end" >34</text>
<text class="s" x="109.6" y="92.94" font-size="27.4" text-anchor="end" >33</text>
<text class="s" x="109.6" y="153.18" font-size="27.4" text-anchor="end" >32</text>
<text class="s" x="109.6" y="213.42" font-size="27.4" text-anchor="end" >31</text>
<text class="s" x="109.6" y="273.66" font-size="27.4" text-anchor="end" >30</text>
<text class="s" x="109.6" y="333.9" font-size="27.4" text-anchor="end" >29</text>
<text class="r" x="112.9" y="381.2" font-size="29.6" text-anchor="end" >720</text>
<text class="r" x="112.9" y="482.18" font-size="29.6" text-anchor="end" >680</text>
<text class="r" x="112.9" y="583.1600000000001" font-size="29.6" text-anchor="end" >640</text>
<text class="r" x="112.9" y="684.1400000000001" font-size="29.6" text-anchor="end" >600</text>
<text class="r" x="112.9" y="732.3" font-size="29.6" text-anchor="end" >100</text>
<text class="r" x="112.9" y="786.5" font-size="29.6" text-anchor="end" >80</text>
<text class="r" x="112.9" y="840.6999999999999" font-size="29.6" text-anchor="end" >60</text>
<text class="r" x="112.9" y="894.9" font-size="29.6" text-anchor="end" >40</text>
<text class="r" x="112.9" y="949.0999999999999" font-size="29.6" text-anchor="end" >20</text>
<text class="r" x="112.9" y="1003.3" font-size="29.6" text-anchor="end" >0</text>
<text class="r" x="112.9" y="1057.5" font-size="29.6" text-anchor="end" >-20</text>
<text class="r" x="103.3" y="1102.6" font-size="29.3" text-anchor="end" >278.2</text>
<text class="r" x="103.3" y="1272.1999999999998" font-size="29.3" text-anchor="end" >277.6</text>
<text class="r" x="103.3" y="1441.8" font-size="29.3" text-anchor="end" >277.0</text>
<text class="r" x="845.3" y="1102.8" font-size="29.3" text-anchor="start" >281.5</text>
<text class="r" x="845.3" y="1215.68" font-size="29.3" text-anchor="start" >281.3</text>
<text class="r" x="845.3" y="1328.56" font-size="29.3" text-anchor="start" >281.1</text>
<text class="r" x="845.3" y="1441.4399999999998" font-size="29.3" text-anchor="start" >280.9</text>
<text class="r" x="136.4" y="1475.6" font-size="29.2" text-anchor="middle" >11</text>
<text class="r" x="260.2" y="1475.6" font-size="29.2" text-anchor="middle" >9</text>
<text class="r" x="384.1" y="1475.6" font-size="29.2" text-anchor="middle" >7</text>
<text class="r" x="507.9" y="1475.6" font-size="29.2" text-anchor="middle" >5</text>
<text class="r" x="631.8" y="1475.6" font-size="29.2" text-anchor="middle" >3</text>
<text class="r" x="755.6" y="1475.6" font-size="29.2" text-anchor="middle" >1</text>
<text class="r" x="478.5" y="1529.2" font-size="42" text-anchor="middle">Age (ka BP)</text>
<text class="r" x="167" y="46.5" font-size="37">a</text>
<text class="r" x="168" y="395.8" font-size="37">b</text>
<text class="r" x="165" y="746" font-size="37">c</text>
<text class="r" x="167.8" y="1123.4" font-size="37">d</text>
<text class="r" x="276.6" y="1028.7" font-size="33.5" font-style="italic">8.14</text>
<text class="r" x="354.7" y="1028.7" font-size="33.5" font-style="italic">7.38</text>
<text class="r" x="461.1" y="1028.7" font-size="33.5" font-style="italic">5.22</text>
<text class="r" x="528.2" y="1028.7" font-size="33.5" font-style="italic">4.16</text>
<text class="r" x="635.9" y="1028.7" font-size="33.5" font-style="italic">2.3</text>
<text class="r" x="705.1" y="1028.7" font-size="33.5" font-style="italic">1.46</text>
<text class="r" x="779.2" y="1028.7" font-size="33.5" font-style="italic">0.4</text>
<text class="s" x="0" y="0" font-size="26.5" text-anchor="middle" transform="translate(30.8,151.4) rotate(-90)" textLength="226" lengthAdjust="spacingAndGlyphs">DV NC TotalVeg (%)</text>
<text class="r" x="0" y="0" font-size="29.2" text-anchor="middle" transform="translate(30.6,495.9) rotate(-90)">VF NC Pann (mm)</text>
<text class="r" x="0" y="0" font-size="29.3" text-anchor="middle" transform="translate(30.6,874.5) rotate(-90)">VF NC Pann KDJ index</text>
<text class="r" x="0" y="0" font-size="29.4" text-anchor="middle" transform="translate(30.8,1262.9) rotate(-90)">DV NC TS (K)</text>
<text class="r" x="0" y="0" font-size="29.5" text-anchor="middle" transform="translate(941.3,1263) rotate(-90)">VF NC TS (K)</text>
</svg></body></html>
